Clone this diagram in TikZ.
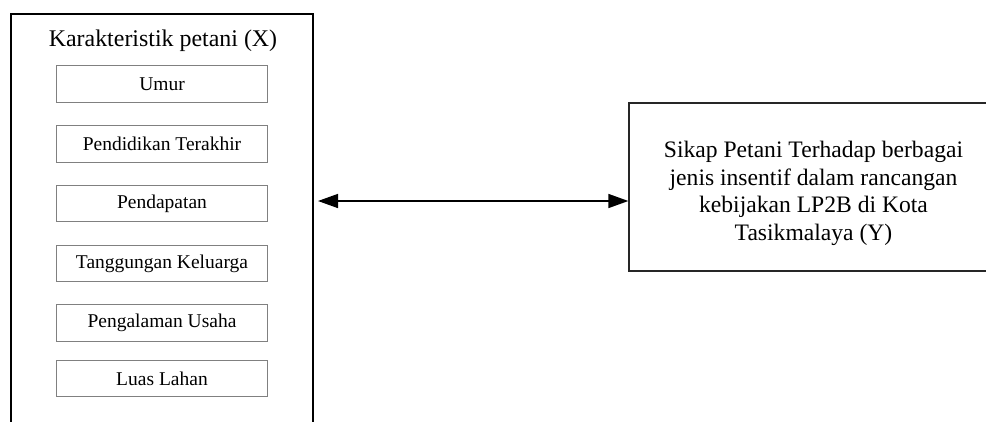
\documentclass[tikz,border=0pt]{standalone}
\usepackage{fontspec}
\setmainfont{Liberation Serif}
\usetikzlibrary{arrows.meta}
\definecolor{innergray}{HTML}{808080}
\definecolor{darkline}{HTML}{262626}
\tikzset{
  outerbox/.style={draw=black, line width=1.2pt, rectangle, inner sep=0pt},
  itembox/.style={draw=innergray, line width=1.1pt, rectangle, inner sep=0pt,
    minimum width=211pt, minimum height=36.5pt,
    font=\fontsize{19.5}{22}\selectfont},
  ybox/.style={draw=darkline, line width=1.3pt, rectangle, inner sep=0pt,
    minimum width=369pt, minimum height=168pt},
  ytext/.style={align=center, inner sep=0pt, font=\fontsize{23.6}{27.7}\selectfont},
  titletext/.style={inner sep=0pt, anchor=base, font=\fontsize{23.9}{27}\selectfont},
  biarrow/.style={line width=1.5pt, {Triangle[length=20pt,width=14pt]}-{Triangle[length=20pt,width=14pt]}}
}
\begin{document}
\begin{tikzpicture}[x=1pt, y=-1pt]
\useasboundingbox (0,0) rectangle (986,421);
\clip (0,0) rectangle (986,421);
% left outer box (bottom edge lies outside the picture)
\node[outerbox, minimum width=302pt, minimum height=436pt] (xbox) at (162,232) {};
\node[titletext] (xtitle) at (163,46) {Karakteristik petani (X)};
\node[itembox] (umur) at (162,84) {Umur};
\node[itembox] (didik) at (162,144) {Pendidikan Terakhir};
\node[itembox] (dapat) at (162,203.5) {Pendapatan};
\node[itembox] (tanggung) at (162,263.5) {Tanggungan Keluarga};
\node[itembox] (alam) at (162,323) {Pengalaman Usaha};
\node[itembox] (luas) at (162,378.5) {Luas Lahan};
% right box (right edge lies outside the picture)
\node[ybox] (ybox) at (813.5,187) {};
\node[ytext] (ytxt) at (813.5,193.5) {Sikap Petani Terhadap berbagai\\jenis insentif dalam rancangan\\kebijakan LP2B di Kota\\Tasikmalaya (Y)};
% connector
\coordinate (a1) at (318,201);
\draw[biarrow] (a1) -- (ybox.west |- a1);
\end{tikzpicture}
\end{document}
